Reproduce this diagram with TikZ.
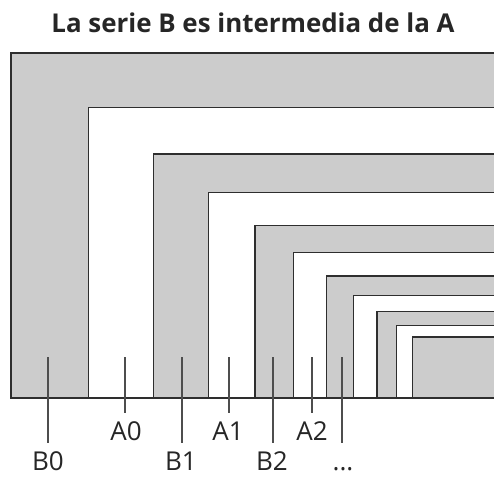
\documentclass[tikz,border=0pt]{standalone}
\usepackage{fontspec}
\setmainfont{Open Sans}
\definecolor{paper}{HTML}{CCCCCC}
\definecolor{edge}{HTML}{2E2E2E}
\tikzset{
  sheet/.style={draw=edge, line width=1.2pt},
  tick/.style={draw=edge!85, line width=1.2pt},
  sizelabel/.style={anchor=north, inner sep=0pt, text height=27pt, text depth=0pt,
    font=\fontsize{26}{26}\selectfont, text=black!85},
  heading/.style={anchor=base, inner sep=0pt,
    font=\bfseries\fontsize{25.9}{27}\selectfont, text=black!85}
}
\begin{document}
\begin{tikzpicture}[x=1pt, y=-1pt]
  \useasboundingbox (0,0) rectangle (494,476);
  \fill[white] (0,0) rectangle (494,476);

  % nested landscape sheets, each 2^(-1/4) of the previous, sharing the lower-right corner
  \begin{scope}
    \clip (0,0) rectangle (494,476);
    \foreach \k in {0,...,10} {
      \pgfmathsetmacro\s{2^(-\k/4)}
      \pgfmathsetmacro\xl{499-488*\s}
      \pgfmathsetmacro\yt{398-345*\s}
      \ifodd\k
        \filldraw[sheet, fill=white] (\xl,\yt) rectangle (499,398);
      \else
        \filldraw[sheet, fill=paper] (\xl,\yt) rectangle (499,398);
      \fi
    }
  \end{scope}

  % title
  \node[heading] (title) at (253,33) {La serie B es intermedia de la A};

  % tick starts inside each band
  \coordinate (tB0) at (48,357);
  \coordinate (tA0) at (125,357);
  \coordinate (tB1) at (182,357);
  \coordinate (tA1) at (229,357);
  \coordinate (tB2) at (273,357);
  \coordinate (tA2) at (312,357);
  \coordinate (tMore) at (342,357);

  % size labels
  \node[sizelabel] (lB0) at (48,443) {B0};
  \node[sizelabel] (lA0) at (126,413) {A0};
  \node[sizelabel] (lB1) at (181,443) {B1};
  \node[sizelabel] (lA1) at (228,413) {A1};
  \node[sizelabel] (lB2) at (272,443) {B2};
  \node[sizelabel] (lA2) at (312,413) {A2};
  \node[sizelabel] (lMore) at (343,443) {...};

  \draw[tick] (tB0) -- (tB0 |- lB0.north);
  \draw[tick] (tA0) -- (tA0 |- lA0.north);
  \draw[tick] (tB1) -- (tB1 |- lB1.north);
  \draw[tick] (tA1) -- (tA1 |- lA1.north);
  \draw[tick] (tB2) -- (tB2 |- lB2.north);
  \draw[tick] (tA2) -- (tA2 |- lA2.north);
  \draw[tick] (tMore) -- (tMore |- lMore.north);
\end{tikzpicture}
\end{document}
